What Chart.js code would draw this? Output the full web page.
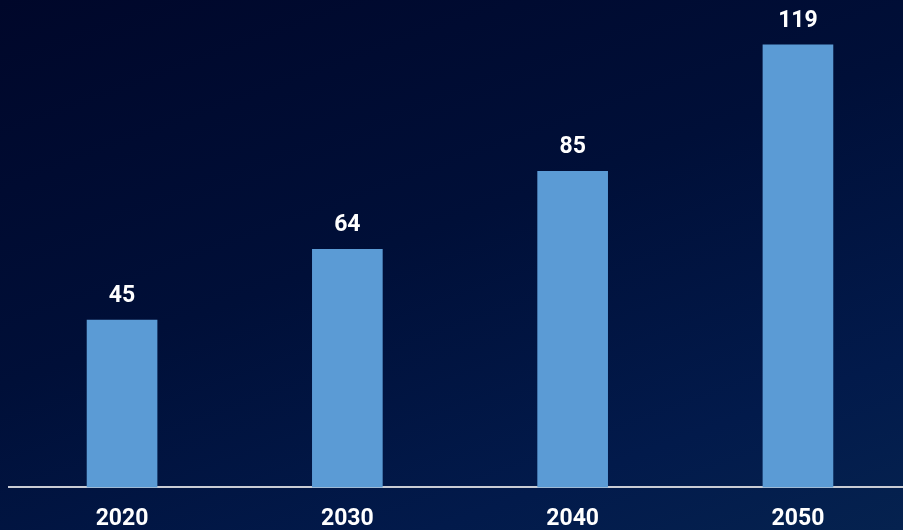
<!DOCTYPE html>
<html>
<head>
<meta charset="utf-8">
<script src="https://cdn.jsdelivr.net/npm/chart.js@4"></script>
<style>
  html, body { margin: 0; padding: 0; overflow: hidden; }
  body {
    width: 903px; height: 530px;
    background: linear-gradient(160deg, #00072a 0%, #000f38 45%, #021a4b 80%, #05224f 100%);
  }
  #wrap { position: absolute; left: 0; top: 0; width: 912px; height: 551px; }
</style>
</head>
<body>
<div id="wrap"><canvas id="myChart" width="912" height="551"></canvas></div>
<script>
// categories and values
const years = ['2020', '2030', '2040', '2050'];
const values = [45, 64, 85, 119];

const barColor = '#5b9bd5';
const labelFont = { family: 'Roboto, "DejaVu Sans", sans-serif', size: 23, weight: 'bold' };

// draw the number above each bar
const valueLabels = {
  id: 'valueLabels',
  afterDatasetsDraw(chart) {
    const c = chart.ctx;
    const meta = chart.getDatasetMeta(0);
    c.save();
    c.fillStyle = '#ffffff';
    c.font = 'bold 23px Roboto, "DejaVu Sans", sans-serif';
    c.textAlign = 'center';
    c.textBaseline = 'alphabetic';
    meta.data.forEach(function (bar, i) {
      c.fillText(String(values[i]), bar.x, bar.y - 18);
    });
    c.restore();
  }
};

let ctx = document.getElementById('myChart');
var myChart = new Chart(ctx, {
  type: 'bar',
  data: {
    labels: years,
    datasets: [{
      data: values,
      backgroundColor: barColor,
      borderWidth: 0,
      barThickness: 70
    }]
  },
  options: {
    responsive: false,
    animation: false,
    layout: { padding: { left: 9.4, right: 1.4, top: 4, bottom: 0 } },
    plugins: {
      legend: { display: false },
      tooltip: { enabled: false }
    },
    scales: {
      x: {
        grid: { display: false, drawTicks: false },
        border: { display: true, color: '#c9ccd4', width: 2 },
        ticks: { color: '#ffffff', font: labelFont, padding: 18 }
      },
      y: {
        display: false,
        min: 0,
        max: 130
      }
    }
  },
  plugins: [valueLabels]
});
</script>
</body>
</html>
